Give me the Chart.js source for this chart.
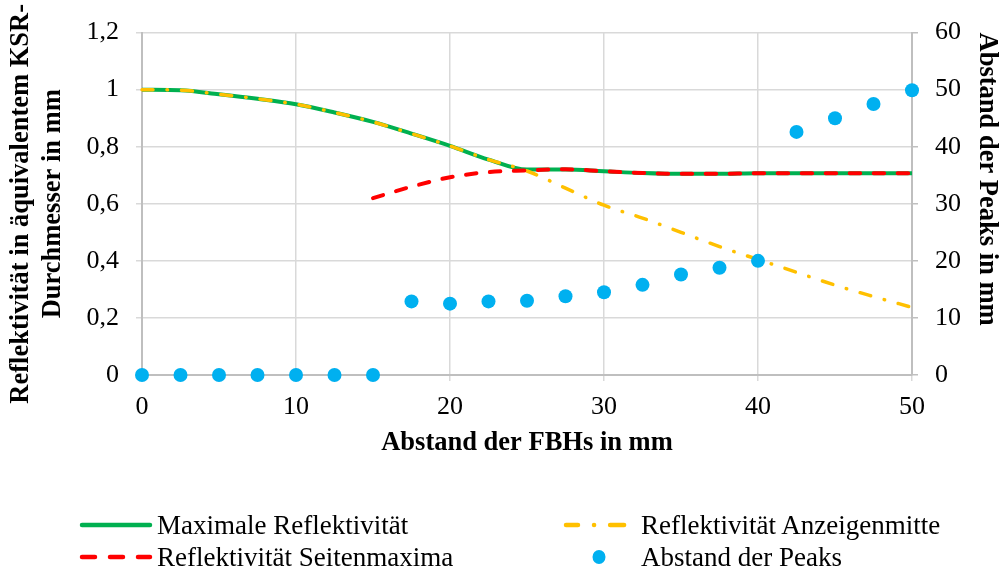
<!DOCTYPE html>
<html>
<head>
<meta charset="utf-8">
<script src="https://cdn.jsdelivr.net/npm/chart.js@4"></script>
<style>
  html, body { margin:0; padding:0; background:#fff; }
  #wrap { position:relative; width:1001px; height:569px; }
  canvas { position:absolute; left:0; top:0; }
  .lg { position:absolute; font-family:"Liberation Serif","Times New Roman",serif; font-size:27px; color:#000; line-height:30px; white-space:nowrap; }
  svg.sw { position:absolute; }
</style>
</head>
<body>
<div id="wrap">
  <canvas id="c" width="1001" height="569"></canvas>
  <div id="legend"></div>
</div>
<script>
const xValues = [0, 2.5, 5, 7.5, 10, 12.5, 15, 17.5, 20, 22.5, 25, 27.5, 30, 32.5, 35, 37.5, 40, 42.5, 45, 47.5, 50];
const maxRefl = [1.0, 0.998, 0.984, 0.968, 0.949, 0.92, 0.887, 0.846, 0.803, 0.755, 0.72, 0.72, 0.714, 0.708, 0.705, 0.705, 0.707, 0.707, 0.707, 0.707, 0.707];
const midRefl = [1.0, 0.998, 0.984, 0.968, 0.949, 0.92, 0.887, 0.846, 0.803, 0.755, 0.715, 0.655, 0.595, 0.55, 0.50, 0.45, 0.405, 0.36, 0.315, 0.275, 0.237];
const sideRefl = [null, null, null, null, null, null, 0.62, 0.66, 0.693, 0.711, 0.717, 0.721, 0.714, 0.708, 0.705, 0.705, 0.707, 0.707, 0.707, 0.707, 0.707];
const peakDist = [0, 0, 0, 0, 0, 0, 0, 12.9, 12.5, 12.9, 13.0, 13.8, 14.5, 15.8, 17.6, 18.8, 20.0, 42.6, 45.0, 47.5, 49.9];
const xTicks = [0, 10, 20, 30, 40, 50];
const yLeftTicks = [0, 0.2, 0.4, 0.6, 0.8, 1.0, 1.2];
const yRightTicks = [0, 10, 20, 30, 40, 50, 60];
const seriesNames = ['Maximale Reflektivität', 'Reflektivität Anzeigenmitte', 'Reflektivität Seitenmaxima', 'Abstand der Peaks'];
const colors = { green:'#00B050', yellow:'#FFC000', red:'#FF0000', blue:'#00B0F0' };

const pts = arr => xValues.map((x, i) => ({x, y: arr[i]})).filter(p => p.y !== null);
const FONT = '"Liberation Serif", "Times New Roman", serif';
const fmt = v => String(Number(v.toFixed(1))).replace('.', ',');

new Chart(document.getElementById('c'), {
  type: 'line',
  data: {
    datasets: [
      { label: seriesNames[0], data: pts(maxRefl), borderColor: colors.green, borderWidth: 4, pointRadius: 0, cubicInterpolationMode: 'monotone', yAxisID: 'y', order: 3, clip: false },
      { label: seriesNames[1], data: pts(midRefl), borderColor: colors.yellow, borderWidth: 3.5, borderDash: [11, 14, 0.5, 14], borderCapStyle: 'round', pointRadius: 0, cubicInterpolationMode: 'monotone', yAxisID: 'y', order: 2, clip: false },
      { label: seriesNames[2], data: pts(sideRefl), borderColor: colors.red, borderWidth: 4, borderDash: [10.5, 13.5], borderCapStyle: 'round', pointRadius: 0, cubicInterpolationMode: 'monotone', yAxisID: 'y', order: 1, clip: false },
      { label: seriesNames[3], data: pts(peakDist), borderColor: colors.blue, backgroundColor: colors.blue, showLine: false, pointRadius: 7, pointHoverRadius: 7, pointBorderWidth: 0, yAxisID: 'y2', order: 0, clip: false }
    ]
  },
  options: {
    responsive: false,
    animation: false,
    events: [],
    layout: { padding: { top: 22, bottom: 109, left: 0, right: 0 } },
    plugins: { legend: { display: false }, tooltip: { enabled: false } },
    scales: {
      x: {
        type: 'linear', min: 0, max: 50,
        afterBuildTicks: s => { s.ticks = xTicks.map(v => ({value: v})); },
        afterFit: s => { s.height = 85; },
        grid: { color: '#D9D9D9', lineWidth: 1.5, tickLength: 6, drawTicks: true },
        border: { color: '#BFBFBF', width: 2 },
        ticks: { color: '#000', font: { family: FONT, size: 26 }, padding: 11, maxRotation: 0 },
        title: { display: true, text: 'Abstand der FBHs in mm', color: '#000', font: { family: FONT, size: 26.5, weight: 'bold' }, padding: { top: 0, bottom: 1 } }
      },
      y: {
        position: 'left', min: 0, max: 1.2,
        afterBuildTicks: s => { s.ticks = yLeftTicks.map(v => ({value: v})); },
        afterFit: s => { s.width = 142; },
        grid: { color: '#D9D9D9', lineWidth: 1.5, tickLength: 6 },
        border: { color: '#BFBFBF', width: 2 },
        ticks: { color: '#000', font: { family: FONT, size: 26 }, padding: 17, callback: v => fmt(v) },
        title: { display: true, text: ['Reflektivität in äquivalentem KSR-', 'Durchmesser in mm'], color: '#000', font: { family: FONT, size: 26.5, weight: 'bold', lineHeight: 1.18 }, padding: { top: 6, bottom: 0 } }
      },
      y2: {
        position: 'right', min: 0, max: 60,
        afterBuildTicks: s => { s.ticks = yRightTicks.map(v => ({value: v})); },
        afterFit: s => { s.width = 89; },
        grid: { drawOnChartArea: false, color: '#BFBFBF', lineWidth: 1.5, tickLength: 6 },
        border: { color: '#BFBFBF', width: 2 },
        ticks: { color: '#000', font: { family: FONT, size: 26 }, padding: 17 },
        title: { display: true, text: 'Abstand der Peaks in mm', align: 'end', color: '#000', font: { family: FONT, size: 26.5, weight: 'bold', lineHeight: 1.1 }, padding: { top: 0, bottom: 0 } }
      }
    }
  }
});

// HTML legend (two columns)
const legend = document.getElementById('legend');
const items = [
  { name: seriesNames[0], sx: 78, tx: 157, y: 525, kind: 'line', color: colors.green, dash: '', w: 4.5 },
  { name: seriesNames[2], sx: 78, tx: 157, y: 557, kind: 'line', color: colors.red, dash: '13 15', w: 4.5 },
  { name: seriesNames[1], sx: 562, tx: 641, y: 525, kind: 'line', color: colors.yellow, dash: '12 16 0.1 16 14', w: 4.5 },
  { name: seriesNames[3], sx: 562, tx: 641, y: 557, kind: 'dot', color: colors.blue }
];
items.forEach(it => {
  const svg = document.createElementNS('http://www.w3.org/2000/svg', 'svg');
  svg.setAttribute('class', 'sw');
  svg.setAttribute('width', '76'); svg.setAttribute('height', '20');
  svg.style.left = it.sx + 'px'; svg.style.top = (it.y - 10) + 'px';
  if (it.kind === 'line') {
    const l = document.createElementNS('http://www.w3.org/2000/svg', 'line');
    l.setAttribute('x1', '4'); l.setAttribute('x2', '72'); l.setAttribute('y1', '10'); l.setAttribute('y2', '10');
    l.setAttribute('stroke', it.color); l.setAttribute('stroke-width', it.w);
    l.setAttribute('stroke-linecap', 'round');
    if (it.dash) l.setAttribute('stroke-dasharray', it.dash);
    svg.appendChild(l);
  } else {
    const c = document.createElementNS('http://www.w3.org/2000/svg', 'ellipse');
    c.setAttribute('cx', '37'); c.setAttribute('cy', '10'); c.setAttribute('rx', '6.5'); c.setAttribute('ry', '7');
    c.setAttribute('fill', it.color);
    svg.appendChild(c);
  }
  legend.appendChild(svg);
  const t = document.createElement('div');
  t.className = 'lg';
  t.textContent = it.name;
  t.style.left = it.tx + 'px'; t.style.top = (it.y - 15) + 'px';
  legend.appendChild(t);
});
</script>
</body>
</html>
